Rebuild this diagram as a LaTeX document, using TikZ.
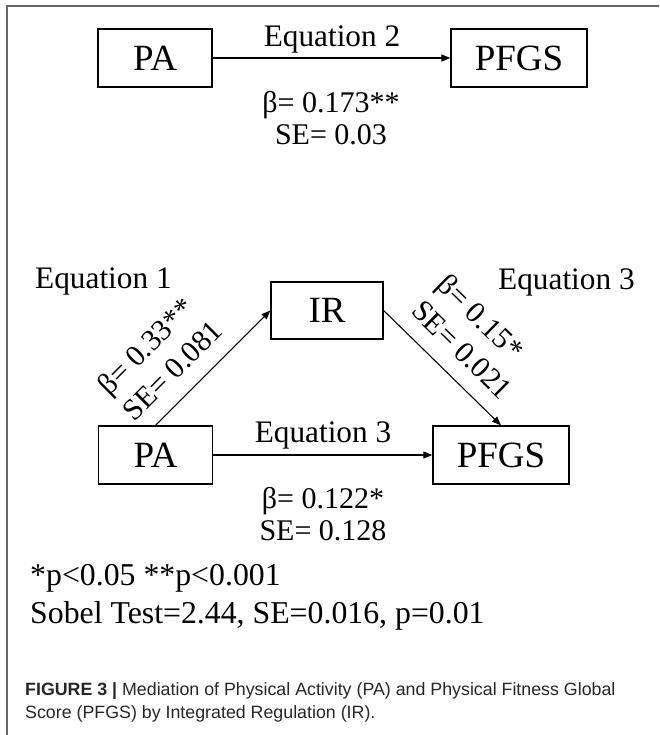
\documentclass[tikz,border=0pt]{standalone}
\usepackage{fontspec}
\setmainfont{Liberation Serif}
\newfontfamily\capfont{Liberation Sans}
\usetikzlibrary{arrows.meta}

\begin{document}
\begin{tikzpicture}[x=1pt, y=-1pt,
      box/.style={rectangle, draw, line width=1.3pt, minimum width=114pt, minimum height=58pt, inner sep=0pt, font=\fontsize{37}{40}\selectfont},
      wide/.style={box, minimum width=136pt},
      eqn/.style={font=\fontsize{31.3}{32}\selectfont, inner sep=0pt},
      coef/.style={font=\fontsize{30}{32}\selectfont, align=center, inner sep=0pt},
      slant/.style={font=\fontsize{30}{36}\selectfont, align=left, sloped, anchor=south west, inner xsep=0pt, inner ysep=16pt},
      arr/.style={-{Triangle[length=9pt, width=7pt]}, line width=1.1pt},
      note/.style={font=\fontsize{31.8}{32}\selectfont, anchor=base west, inner sep=0pt},
      figcap/.style={font=\capfont\fontsize{17.8}{23}\selectfont, anchor=base west, inner sep=0pt, text=black!85}]

  \useasboundingbox (0,0) rectangle (659,735);
  % frame
  \draw[black!60, line width=1.5pt] (659,6) -- (7,6) -- (7,735);

  % Equation 2 (total effect)
  \node[box] (patop) at (155,58) {PA};
  \node[wide] (pfgstop) at (519,58) {PFGS};
  \draw[arr] (patop) -- (pfgstop);
  \node[eqn, anchor=base] (eq2) at (332,47) {Equation 2};
  \node[coef, anchor=north] (b2) at (331,91.5) {β= 0.173**\\SE= 0.03};

  % Mediation model
  \node[box] (pa) at (155.5,455) {PA};
  \node[box, minimum width=112pt, minimum height=57pt] (ir) at (327,310.5) {IR};
  \node[wide] (pfgs) at (501,455) {PFGS};

  \draw[arr] (pa.north) -- node[slant, pos=-0.08] (b1) {β= 0.33**\\SE= 0.081} (ir.west);
  \draw[arr] (ir.east) -- node[slant, pos=0.12] (b4) {β= 0.15*\\SE= 0.021} (pfgs.north);
  \draw[arr] (pa) -- (pfgs);

  \node[eqn, anchor=base west] (eq1) at (35,288) {Equation 1};
  \node[eqn, anchor=base west] (eq3a) at (498,289) {Equation 3};
  \node[eqn, anchor=base] (eq3b) at (323,442) {Equation 3};
  \node[coef, anchor=north] (b3) at (323,487.5) {β= 0.122*\\SE= 0.128};

  % Notes
  \node[note] (sig) at (30,585) {*p<0.05 **p<0.001};
  \node[note] (sobel) at (30,623) {Sobel Test=2.44, SE=0.016, p=0.01};

  \node[figcap] (cap1) at (25,695) {\textbf{FIGURE 3 |} Mediation of Physical Activity (PA) and Physical Fitness Global};
  \node[figcap] (cap2) at (25,718) {Score (PFGS) by Integrated Regulation (IR).};
\end{tikzpicture}
\end{document}
